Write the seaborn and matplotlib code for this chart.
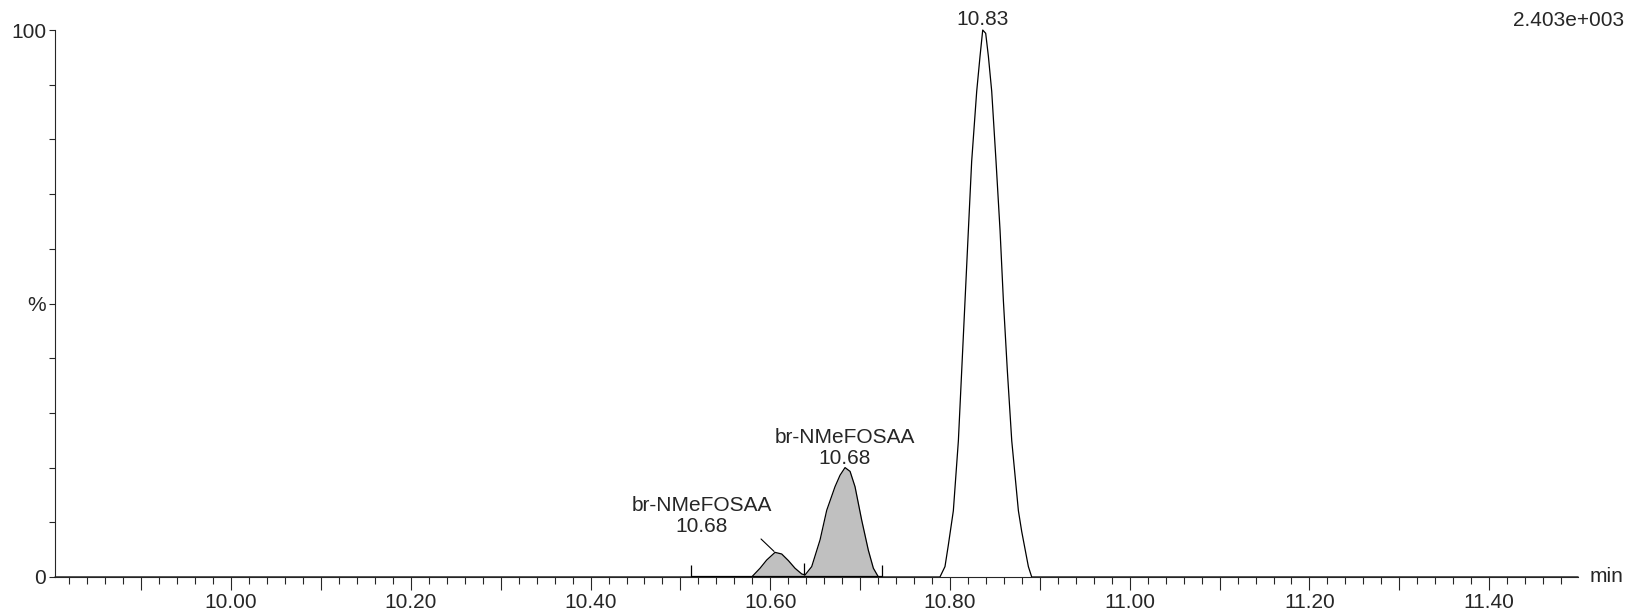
import numpy as np
import pandas as pd
import matplotlib
matplotlib.use("Agg")
import matplotlib.pyplot as plt
from matplotlib.ticker import MultipleLocator, FuncFormatter
import seaborn as sns

# chromatogram trace (retention time in min, % of max)
rt = [9.804, 10.5793, 10.5886, 10.5960, 10.6053, 10.6127, 10.6201, 10.6275,
      10.6350, 10.6387, 10.6461, 10.6554, 10.6628, 10.6720, 10.6776, 10.6832,
      10.6888, 10.6943, 10.7017, 10.7091, 10.7147, 10.7203,
      10.7888, 10.7944, 10.7981, 10.8037, 10.8093, 10.8130, 10.8167, 10.8204,
      10.8241, 10.8297, 10.8334, 10.8364, 10.8397, 10.8427, 10.8464, 10.8512,
      10.8557, 10.8594, 10.8638, 10.8687, 10.8761, 10.8798, 10.8872, 10.8909,
      11.499]
intensity = [0, 0, 1.6, 3.1, 4.5, 4.2, 3.0, 1.6,
             0.55, 0.37, 1.9, 6.8, 12.2, 16.5, 18.6, 20.0,
             19.3, 16.5, 10.4, 4.9, 1.6, 0,
             0, 1.9, 5.8, 12.1, 24.9, 37.7, 50.5, 63.3,
             76.0, 88.8, 95.2, 100.0, 99.4, 95.2, 88.8, 76.0,
             63.3, 50.5, 37.7, 24.9, 12.1, 8.3, 1.9, 0,
             0]

# peak labels (apex retention time of each labelled peak)
peak_apex = [10.6053, 10.6832, 10.8364]
peak_names = ["br-NMeFOSAA", "br-NMeFOSAA", ""]
peak_rt_text = ["10.68", "10.68", "10.83"]

# integration markers, the grey area lies between first and last
markers = [10.512, 10.638, 10.724]

max_count = "2.403e+003"
y_ticks = [0, 10, 20, 30, 40, 50, 60, 70, 80, 90, 100]
y_tick_labels = ["0", "", "", "", "", "%", "", "", "", "", "100"]

df = pd.DataFrame({"rt": rt, "intensity": intensity})

sns.set_style("ticks")
plt.rcParams["font.family"] = ["Liberation Sans", "DejaVu Sans"]
plt.rcParams["font.size"] = 15

fig = plt.figure(figsize=(16.32, 6.14), dpi=100)
ax = fig.add_axes([0.0337, 0.0603, 0.9333, 0.8908])

# grey area under the integrated peaks
x = df["rt"].to_numpy()
y = df["intensity"].to_numpy()
inside = (x >= markers[0]) & (x <= markers[-1])
ax.fill_between(x, y, 0, where=inside, color="#c0c0c0", lw=0)
ax.hlines(0, markers[0], markers[-1], color="black", lw=1.6)

sns.lineplot(data=df, x="rt", y="intensity", color="black", lw=0.9,
             ax=ax, clip_on=False)

# small vertical integration ticks
base = np.interp(markers, x, y)
ax.vlines(markers, base, base + 2.2, color="black", lw=0.9)

# peak annotations
apex_y = np.interp(peak_apex, x, y)
ax.annotate(peak_names[0] + "\n" + peak_rt_text[0], xy=(peak_apex[0], apex_y[0]),
            xytext=(-53, 12), textcoords="offset points", ha="center", va="bottom",
            linespacing=1.1,
            arrowprops=dict(arrowstyle="-", color="black", lw=0.8,
                            relpos=(0.9, 0), shrinkA=0, shrinkB=1))
ax.annotate(peak_names[1] + "\n" + peak_rt_text[1], xy=(peak_apex[1], apex_y[1]),
            xytext=(0, 0), textcoords="offset points", ha="center", va="bottom",
            linespacing=1.1)
ax.annotate(peak_rt_text[2], xy=(peak_apex[2], apex_y[2]),
            xytext=(0, 1), textcoords="offset points", ha="center", va="bottom")

ax.set_xlim(9.804, 11.499)
ax.set_ylim(0, 100)

ax.xaxis.set_major_locator(MultipleLocator(0.1))
ax.xaxis.set_minor_locator(MultipleLocator(0.02))
ax.xaxis.set_major_formatter(
    FuncFormatter(lambda v, p: f"{v:.2f}" if round(v * 10) % 2 == 0 else ""))
ax.tick_params(axis="x", which="major", length=9.4, width=0.8, pad=2, direction="out")
ax.tick_params(axis="x", which="minor", length=5, width=0.8, direction="out")

ax.set_yticks(y_ticks)
ax.set_yticklabels(y_tick_labels)
ax.tick_params(axis="y", length=4.3, width=0.8, pad=2)

ax.set_xlabel("")
ax.set_ylabel("")
sns.despine(ax=ax)
for s in ["left", "bottom"]:
    ax.spines[s].set_linewidth(0.8)

ax.annotate("min", xy=(1, 0), xycoords=("axes fraction", "data"),
            xytext=(8, 0), textcoords="offset points", va="center", ha="left")
fig.text(0.9949, 0.967, max_count, ha="right", va="center")

fig.savefig("out.png", dpi=100)
